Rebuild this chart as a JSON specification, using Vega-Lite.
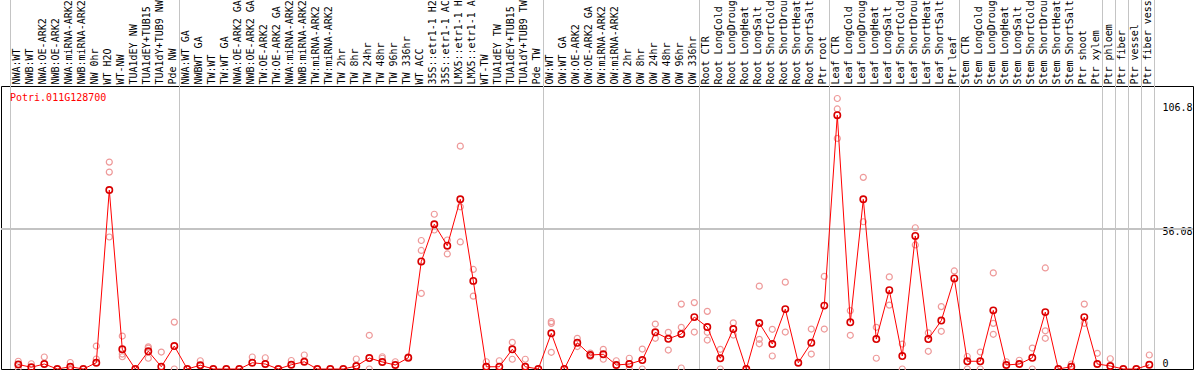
{
"$schema": "https://vega.github.io/schema/vega-lite/v6.json",
"width": 1192, "height": 283,
"autosize": {"type": "none"},
"padding": {"left": 1, "top": 86, "right": 1, "bottom": 1},
"background": "white",
"config": {"view": {"stroke": "black", "strokeWidth": 1}},
"title": {"text": "Potri.011G128700", "anchor": "start", "frame": "group", "orient": "top", "baseline": "top", "offset": 0, "dx": 9, "dy": 104, "font": "DejaVu Sans Mono", "fontSize": 10, "fontWeight": "normal", "color": "red"},
"data": {"values": [
{"i":0,"cat":"NWA:WT","kind":"mean","v":1.8,"sep":"start"},{"i":0,"cat":"NWA:WT","kind":"rep","v":3.1},{"i":0,"cat":"NWA:WT","kind":"rep","v":0.4},
{"i":1,"cat":"NWB:WT","kind":"mean","v":0.7},{"i":1,"cat":"NWB:WT","kind":"rep","v":2.1},
{"i":2,"cat":"NWA:OE-ARK2","kind":"mean","v":2.0},{"i":2,"cat":"NWA:OE-ARK2","kind":"rep","v":4.8},
{"i":3,"cat":"NWB:OE-ARK2","kind":"mean","v":0},
{"i":4,"cat":"NWA:miRNA-ARK2","kind":"mean","v":0.9},{"i":4,"cat":"NWA:miRNA-ARK2","kind":"rep","v":2.6},
{"i":5,"cat":"NWB:miRNA-ARK2","kind":"mean","v":0},
{"i":6,"cat":"NW 0hr","kind":"mean","v":2.5},{"i":6,"cat":"NW 0hr","kind":"rep","v":9.2},{"i":6,"cat":"NW 0hr","kind":"rep","v":4.0},
{"i":7,"cat":"WT H2O","kind":"mean","v":71.7},{"i":7,"cat":"WT H2O","kind":"rep","v":82.9},{"i":7,"cat":"WT H2O","kind":"rep","v":78.9},{"i":7,"cat":"WT H2O","kind":"rep","v":52.9},
{"i":8,"cat":"WT-NW","kind":"mean","v":7.9},{"i":8,"cat":"WT-NW","kind":"rep","v":13.2},{"i":8,"cat":"WT-NW","kind":"rep","v":6.0},{"i":8,"cat":"WT-NW","kind":"rep","v":4.9},
{"i":9,"cat":"TUA1dEY NW","kind":"mean","v":0},
{"i":10,"cat":"TUA1dEY+TUB15","kind":"mean","v":7.1},{"i":10,"cat":"TUA1dEY+TUB15","kind":"rep","v":8.9},{"i":10,"cat":"TUA1dEY+TUB15","kind":"rep","v":8.4},{"i":10,"cat":"TUA1dEY+TUB15","kind":"rep","v":4.3},
{"i":11,"cat":"TUA1dY+TUB9 NW","kind":"mean","v":0.9},{"i":11,"cat":"TUA1dY+TUB9 NW","kind":"rep","v":6.8},
{"i":12,"cat":"Pde NW","kind":"mean","v":9.2,"sep":"end"},{"i":12,"cat":"Pde NW","kind":"rep","v":18.8},{"i":12,"cat":"Pde NW","kind":"rep","v":0},
{"i":13,"cat":"NWA:WT GA","kind":"mean","v":0},
{"i":14,"cat":"NWBWT GA","kind":"mean","v":1.5},{"i":14,"cat":"NWBWT GA","kind":"rep","v":3.3},
{"i":15,"cat":"TW:WT","kind":"mean","v":0},
{"i":16,"cat":"TW:WT GA","kind":"mean","v":0},
{"i":17,"cat":"NWA:OE-ARK2 GA","kind":"mean","v":0},
{"i":18,"cat":"NWB:OE-ARK2 GA","kind":"mean","v":2.5},{"i":18,"cat":"NWB:OE-ARK2 GA","kind":"rep","v":4.8},
{"i":19,"cat":"TW:OE-ARK2","kind":"mean","v":2.0},{"i":19,"cat":"TW:OE-ARK2","kind":"rep","v":4.5},
{"i":20,"cat":"TW:OE-ARK2 GA","kind":"mean","v":0},
{"i":21,"cat":"NWA:miRNA-ARK2 ","kind":"mean","v":1.7},{"i":21,"cat":"NWA:miRNA-ARK2 ","kind":"rep","v":3.4},
{"i":22,"cat":"NWB:miRNA-ARK2 ","kind":"mean","v":2.9},{"i":22,"cat":"NWB:miRNA-ARK2 ","kind":"rep","v":5.6},
{"i":23,"cat":"TW:miRNA-ARK2","kind":"mean","v":0},
{"i":24,"cat":"TW:miRNA-ARK2 ","kind":"mean","v":0},
{"i":25,"cat":"TW 2hr","kind":"mean","v":0},
{"i":26,"cat":"TW 8hr","kind":"mean","v":1.2},{"i":26,"cat":"TW 8hr","kind":"rep","v":4.0},
{"i":27,"cat":"TW 24hr","kind":"mean","v":4.4},{"i":27,"cat":"TW 24hr","kind":"rep","v":13.5},{"i":27,"cat":"TW 24hr","kind":"rep","v":0},
{"i":28,"cat":"TW 48hr","kind":"mean","v":2.8},{"i":28,"cat":"TW 48hr","kind":"rep","v":4.9},{"i":28,"cat":"TW 48hr","kind":"rep","v":4.3},
{"i":29,"cat":"TW 96hr","kind":"mean","v":1.6},{"i":29,"cat":"TW 96hr","kind":"rep","v":2.9},
{"i":30,"cat":"TW 336hr","kind":"mean","v":4.5},{"i":30,"cat":"TW 336hr","kind":"rep","v":4.9},
{"i":31,"cat":"WT ACC","kind":"mean","v":43.1},{"i":31,"cat":"WT ACC","kind":"rep","v":51.5},{"i":31,"cat":"WT ACC","kind":"rep","v":47.5},{"i":31,"cat":"WT ACC","kind":"rep","v":30.3},
{"i":32,"cat":"35S::etr1-1 H2","kind":"mean","v":58.0},{"i":32,"cat":"35S::etr1-1 H2","kind":"rep","v":62.0},{"i":32,"cat":"35S::etr1-1 H2","kind":"rep","v":55.7},
{"i":33,"cat":"35S::etr1-1 AC","kind":"mean","v":49.4},{"i":33,"cat":"35S::etr1-1 AC","kind":"rep","v":51.7},{"i":33,"cat":"35S::etr1-1 AC","kind":"rep","v":46.1},
{"i":34,"cat":"LMX5::etr1-1 H","kind":"mean","v":68.0},{"i":34,"cat":"LMX5::etr1-1 H","kind":"rep","v":89.3},{"i":34,"cat":"LMX5::etr1-1 H","kind":"rep","v":65.0},{"i":34,"cat":"LMX5::etr1-1 H","kind":"rep","v":50.9},
{"i":35,"cat":"LMX5::etr1-1 A","kind":"mean","v":35.3},{"i":35,"cat":"LMX5::etr1-1 A","kind":"rep","v":39.9},{"i":35,"cat":"LMX5::etr1-1 A","kind":"rep","v":29.2},
{"i":36,"cat":"WT-TW","kind":"mean","v":0.9},{"i":36,"cat":"WT-TW","kind":"rep","v":2.9},
{"i":37,"cat":"TUA1dEY TW","kind":"mean","v":0.9},{"i":37,"cat":"TUA1dEY TW","kind":"rep","v":3.3},
{"i":38,"cat":"TUA1dEY+TUB15 ","kind":"mean","v":7.9},{"i":38,"cat":"TUA1dEY+TUB15 ","kind":"rep","v":10.7},{"i":38,"cat":"TUA1dEY+TUB15 ","kind":"rep","v":3.9},
{"i":39,"cat":"TUA1dY+TUB9 TW","kind":"mean","v":0.9},{"i":39,"cat":"TUA1dY+TUB9 TW","kind":"rep","v":3.9},
{"i":40,"cat":"Pde TW","kind":"mean","v":0,"sep":"end"},
{"i":41,"cat":"OW:WT","kind":"mean","v":14.3},{"i":41,"cat":"OW:WT","kind":"rep","v":19.0},{"i":41,"cat":"OW:WT","kind":"rep","v":18.3},{"i":41,"cat":"OW:WT","kind":"rep","v":6.7},
{"i":42,"cat":"OW:WT GA","kind":"mean","v":0},
{"i":43,"cat":"OW:OE-ARK2","kind":"mean","v":10.5},{"i":43,"cat":"OW:OE-ARK2","kind":"rep","v":12.3},{"i":43,"cat":"OW:OE-ARK2","kind":"rep","v":9.0},
{"i":44,"cat":"OW:OE-ARK2 GA","kind":"mean","v":5.6},{"i":44,"cat":"OW:OE-ARK2 GA","kind":"rep","v":6.4},{"i":44,"cat":"OW:OE-ARK2 GA","kind":"rep","v":5.0},
{"i":45,"cat":"OW:miRNA-ARK2","kind":"mean","v":5.9},{"i":45,"cat":"OW:miRNA-ARK2","kind":"rep","v":7.9},{"i":45,"cat":"OW:miRNA-ARK2","kind":"rep","v":3.9},
{"i":46,"cat":"OW:miRNA-ARK2 ","kind":"mean","v":1.6},{"i":46,"cat":"OW:miRNA-ARK2 ","kind":"rep","v":3.3},
{"i":47,"cat":"OW 2hr","kind":"mean","v":2.0},{"i":47,"cat":"OW 2hr","kind":"rep","v":4.3},{"i":47,"cat":"OW 2hr","kind":"rep","v":0},
{"i":48,"cat":"OW 8hr","kind":"mean","v":3.6},{"i":48,"cat":"OW 8hr","kind":"rep","v":8.0},{"i":48,"cat":"OW 8hr","kind":"rep","v":0},
{"i":49,"cat":"OW 24hr","kind":"mean","v":14.7},{"i":49,"cat":"OW 24hr","kind":"rep","v":18.0},{"i":49,"cat":"OW 24hr","kind":"rep","v":12.3},
{"i":50,"cat":"OW 48hr","kind":"mean","v":12.1},{"i":50,"cat":"OW 48hr","kind":"rep","v":14.7},{"i":50,"cat":"OW 48hr","kind":"rep","v":7.6},
{"i":51,"cat":"OW 96hr","kind":"mean","v":14.0},{"i":51,"cat":"OW 96hr","kind":"rep","v":26.0},{"i":51,"cat":"OW 96hr","kind":"rep","v":16.7},{"i":51,"cat":"OW 96hr","kind":"rep","v":0.4},
{"i":52,"cat":"OW 336hr","kind":"mean","v":20.8,"sep":"end"},{"i":52,"cat":"OW 336hr","kind":"rep","v":26.6},{"i":52,"cat":"OW 336hr","kind":"rep","v":14.8},
{"i":53,"cat":"Root CTR","kind":"mean","v":16.8},{"i":53,"cat":"Root CTR","kind":"rep","v":23.1},{"i":53,"cat":"Root CTR","kind":"rep","v":14.7},{"i":53,"cat":"Root CTR","kind":"rep","v":11.6},
{"i":54,"cat":"Root LongCold","kind":"mean","v":4.3},{"i":54,"cat":"Root LongCold","kind":"rep","v":7.9},{"i":54,"cat":"Root LongCold","kind":"rep","v":0},
{"i":55,"cat":"Root LongDroug","kind":"mean","v":16.0},{"i":55,"cat":"Root LongDroug","kind":"rep","v":18.5},{"i":55,"cat":"Root LongDroug","kind":"rep","v":13.6},
{"i":56,"cat":"Root LongHeat","kind":"mean","v":0},
{"i":57,"cat":"Root LongSalt","kind":"mean","v":18.4},{"i":57,"cat":"Root LongSalt","kind":"rep","v":33.2},{"i":57,"cat":"Root LongSalt","kind":"rep","v":11.9},{"i":57,"cat":"Root LongSalt","kind":"rep","v":10.1},
{"i":58,"cat":"Root ShortCold","kind":"mean","v":10.0},{"i":58,"cat":"Root ShortCold","kind":"rep","v":15.9},{"i":58,"cat":"Root ShortCold","kind":"rep","v":5.2},
{"i":59,"cat":"Root ShortDrou","kind":"mean","v":24.0},{"i":59,"cat":"Root ShortDrou","kind":"rep","v":34.8},{"i":59,"cat":"Root ShortDrou","kind":"rep","v":14.8},
{"i":60,"cat":"Root ShortHeat","kind":"mean","v":2.5},
{"i":61,"cat":"Root ShortSalt","kind":"mean","v":10.5},{"i":61,"cat":"Root ShortSalt","kind":"rep","v":16.0},{"i":61,"cat":"Root ShortSalt","kind":"rep","v":6.0},
{"i":62,"cat":"Ptr root","kind":"mean","v":25.4,"sep":"end"},{"i":62,"cat":"Ptr root","kind":"rep","v":37.1},{"i":62,"cat":"Ptr root","kind":"rep","v":16.0},
{"i":63,"cat":"Leaf CTR","kind":"mean","v":101.7},{"i":63,"cat":"Leaf CTR","kind":"rep","v":108.4},{"i":63,"cat":"Leaf CTR","kind":"rep","v":104.2},{"i":63,"cat":"Leaf CTR","kind":"rep","v":92.4},
{"i":64,"cat":"Leaf LongCold","kind":"mean","v":18.7},{"i":64,"cat":"Leaf LongCold","kind":"rep","v":23.4},{"i":64,"cat":"Leaf LongCold","kind":"rep","v":13.5},
{"i":65,"cat":"Leaf LongDroug","kind":"mean","v":68.0},{"i":65,"cat":"Leaf LongDroug","kind":"rep","v":76.8},{"i":65,"cat":"Leaf LongDroug","kind":"rep","v":59.0},
{"i":66,"cat":"Leaf LongHeat","kind":"mean","v":12.0},{"i":66,"cat":"Leaf LongHeat","kind":"rep","v":16.7},{"i":66,"cat":"Leaf LongHeat","kind":"rep","v":4.3},
{"i":67,"cat":"Leaf LongSalt","kind":"mean","v":31.6},{"i":67,"cat":"Leaf LongSalt","kind":"rep","v":36.9},{"i":67,"cat":"Leaf LongSalt","kind":"rep","v":25.6},
{"i":68,"cat":"Leaf ShortCold","kind":"mean","v":5.2},{"i":68,"cat":"Leaf ShortCold","kind":"rep","v":10.0},{"i":68,"cat":"Leaf ShortCold","kind":"rep","v":0},
{"i":69,"cat":"Leaf ShortDrou","kind":"mean","v":53.3},{"i":69,"cat":"Leaf ShortDrou","kind":"rep","v":56.6},{"i":69,"cat":"Leaf ShortDrou","kind":"rep","v":49.7},
{"i":70,"cat":"Leaf ShortHeat","kind":"mean","v":12.0},{"i":70,"cat":"Leaf ShortHeat","kind":"rep","v":14.5},{"i":70,"cat":"Leaf ShortHeat","kind":"rep","v":7.1},
{"i":71,"cat":"Leaf ShortSalt","kind":"mean","v":19.4},{"i":71,"cat":"Leaf ShortSalt","kind":"rep","v":25.0},{"i":71,"cat":"Leaf ShortSalt","kind":"rep","v":15.1},
{"i":72,"cat":"Ptr leaf","kind":"mean","v":36.3,"sep":"end"},{"i":72,"cat":"Ptr leaf","kind":"rep","v":39.3},
{"i":73,"cat":"Stem CTR","kind":"mean","v":3.1},{"i":73,"cat":"Stem CTR","kind":"rep","v":5.0},{"i":73,"cat":"Stem CTR","kind":"rep","v":0},
{"i":74,"cat":"Stem LongCold","kind":"mean","v":3.1},{"i":74,"cat":"Stem LongCold","kind":"rep","v":6.8},{"i":74,"cat":"Stem LongCold","kind":"rep","v":0},
{"i":75,"cat":"Stem LongDroug","kind":"mean","v":23.5},{"i":75,"cat":"Stem LongDroug","kind":"rep","v":38.5},{"i":75,"cat":"Stem LongDroug","kind":"rep","v":18.3},{"i":75,"cat":"Stem LongDroug","kind":"rep","v":13.9},
{"i":76,"cat":"Stem LongHeat","kind":"mean","v":1.6},{"i":76,"cat":"Stem LongHeat","kind":"rep","v":2.9},
{"i":77,"cat":"Stem LongSalt","kind":"mean","v":2.0},{"i":77,"cat":"Stem LongSalt","kind":"rep","v":3.5},
{"i":78,"cat":"Stem ShortCold","kind":"mean","v":4.5},{"i":78,"cat":"Stem ShortCold","kind":"rep","v":8.4},{"i":78,"cat":"Stem ShortCold","kind":"rep","v":0},
{"i":79,"cat":"Stem ShortDrou","kind":"mean","v":22.8},{"i":79,"cat":"Stem ShortDrou","kind":"rep","v":40.5},{"i":79,"cat":"Stem ShortDrou","kind":"rep","v":15.3},{"i":79,"cat":"Stem ShortDrou","kind":"rep","v":12.3},
{"i":80,"cat":"Stem ShortHeat","kind":"mean","v":0},
{"i":81,"cat":"Stem ShortSalt","kind":"mean","v":0.9},{"i":81,"cat":"Stem ShortSalt","kind":"rep","v":2.0},
{"i":82,"cat":"Ptr shoot","kind":"mean","v":20.8},{"i":82,"cat":"Ptr shoot","kind":"rep","v":26.0},{"i":82,"cat":"Ptr shoot","kind":"rep","v":18.3},
{"i":83,"cat":"Ptr xylem","kind":"mean","v":2.0,"sep":"end"},{"i":83,"cat":"Ptr xylem","kind":"rep","v":6.3},
{"i":84,"cat":"Ptr phloem","kind":"mean","v":1.2,"sep":"end"},{"i":84,"cat":"Ptr phloem","kind":"rep","v":4.1},
{"i":85,"cat":"Ptr fiber","kind":"mean","v":0,"sep":"end"},
{"i":86,"cat":"Ptr vessel","kind":"mean","v":0,"sep":"end"},
{"i":87,"cat":"Ptr fiber vess","kind":"mean","v":1.7,"sep":"end"},{"i":87,"cat":"Ptr fiber vess","kind":"rep","v":5.6}
]},
"layer": [
{"transform": [{"filter": "datum.sep == 'start'"}],
 "mark": {"type": "rule", "color": "#c4c4c4", "strokeWidth": 1},
 "encoding": {
  "x": {"field": "cat", "type": "nominal", "sort": {"field": "i", "op": "min"}, "bandPosition": 0,
        "scale": {"type": "band", "paddingInner": 0, "paddingOuter": 0, "range": [9.5, 1153.5]},
        "axis": {"orient": "top", "labelAngle": 270, "labelAlign": "left", "labelBaseline": "middle", "ticks": false, "domain": false, "grid": false, "labelPadding": 2, "labelFont": "DejaVu Sans Mono", "labelFontSize": 10, "labelColor": "black", "title": null, "bandPosition": 0.55, "labelOverlap": false}},
  "y": {"datum": 0, "type": "quantitative", "scale": {"domain": [0, 113.4], "nice": false, "zero": true},
        "axis": {"orient": "right", "values": [0, 56.08, 106.8], "format": ".5~g", "grid": false, "ticks": false, "domain": false, "labelAlign": "left", "labelPadding": -31, "labelFont": "DejaVu Sans Mono", "labelFontSize": 10, "labelColor": "black", "labelOffset": {"condition": {"test": "datum.value > 100", "value": 5}, "value": 2}, "labelFlush": true, "labelFlushOffset": -3, "title": null}},
  "y2": {"datum": 148}
 }},
{"transform": [{"filter": "datum.sep == 'end'"}],
 "mark": {"type": "rule", "color": "#c4c4c4", "strokeWidth": 1},
 "encoding": {
  "x": {"field": "cat", "type": "nominal", "sort": {"field": "i", "op": "min"}, "bandPosition": 1},
  "y": {"datum": 0, "type": "quantitative"},
  "y2": {"datum": 148}
 }},
{"mark": {"type": "rule", "color": "#c4c4c4", "strokeWidth": 1},
 "encoding": {"y": {"datum": 56.08, "type": "quantitative"}}},
{"transform": [{"filter": "datum.kind == 'rep'"}],
 "mark": {"type": "point", "filled": false, "stroke": "#ee9a9a", "strokeWidth": 1.2, "size": 36, "opacity": 1},
 "encoding": {
  "x": {"field": "cat", "type": "nominal", "sort": {"field": "i", "op": "min"}, "bandPosition": 0.6},
  "y": {"field": "v", "type": "quantitative"}
 }},
{"transform": [{"filter": "datum.kind == 'mean'"}],
 "mark": {"type": "line", "color": "red", "strokeWidth": 1},
 "encoding": {
  "x": {"field": "cat", "type": "nominal", "sort": {"field": "i", "op": "min"}, "bandPosition": 0.6},
  "y": {"field": "v", "type": "quantitative"},
  "order": {"field": "i", "type": "quantitative"}
 }},
{"transform": [{"filter": "datum.kind == 'mean'"}],
 "mark": {"type": "point", "filled": false, "stroke": "#d80000", "strokeWidth": 1.6, "size": 40, "opacity": 1},
 "encoding": {
  "x": {"field": "cat", "type": "nominal", "sort": {"field": "i", "op": "min"}, "bandPosition": 0.6},
  "y": {"field": "v", "type": "quantitative"}
 }}
]
}
